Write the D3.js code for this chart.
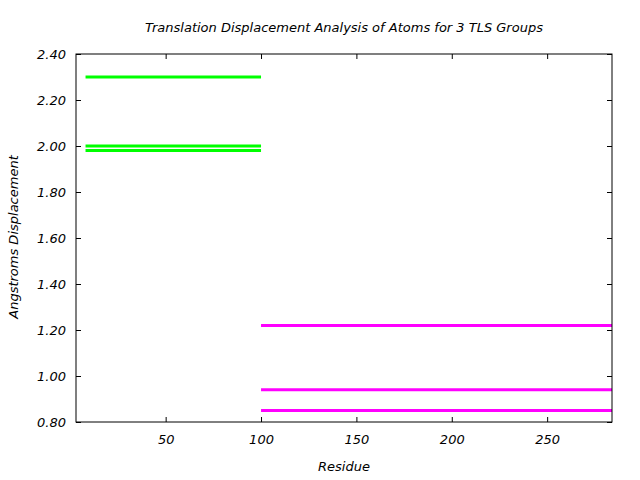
<!DOCTYPE html>
<html><head><meta charset="utf-8">
<script src="https://cdn.jsdelivr.net/npm/d3@7"></script>
<style>body{margin:0;background:#fff}svg{display:block}text{font-family:"DejaVu Sans",sans-serif;font-style:italic;font-size:13px;fill:#000}</style>
</head><body><svg id="c" width="640" height="480"></svg>
<script>
const title = "Translation Displacement Analysis of Atoms for 3 TLS Groups";
const xLabel = "Residue";
const yLabel = "Angstroms Displacement";
const xTicks = [50, 100, 150, 200, 250];
const yTicks = [0.8, 1.0, 1.2, 1.4, 1.6, 1.8, 2.0, 2.2, 2.4];
const groupNames = ["TLS group 1", "TLS group 2"];
const groupColors = ["#00ff00", "#ff00ff"];
const groupStart = [8, 100];
const groupEnd = [100, 284];
const group1Values = [2.30, 2.00, 1.98];
const group2Values = [1.22, 0.94, 0.85];

const svg = d3.select("#c");
const L = 76, R = 612, T = 54, B = 422;
const x = d3.scaleLinear().domain([3, 284]).range([L, R]);
const y = d3.scaleLinear().domain([0.8, 2.4]).range([B, T]);

const segs = [];
[group1Values, group2Values].forEach((vals, g) => vals.forEach(v => segs.push({g, v})));
svg.append("g").selectAll("line").data(segs).join("line")
  .attr("x1", d => x(groupStart[d.g])).attr("x2", d => x(groupEnd[d.g]))
  .attr("y1", d => y(d.v)).attr("y2", d => y(d.v))
  .attr("stroke", d => groupColors[d.g]).attr("stroke-width", 3);

const fmt = d3.format(".2f");
const ax = (a, tr) => { const g = svg.append("g").attr("transform", tr).call(a); g.select(".domain").remove(); g.selectAll("line").attr("stroke","#000"); g.selectAll("text").attr("font-size", null).attr("font-family", null); return g; };
ax(d3.axisBottom(x).tickValues(xTicks).tickSizeInner(-5).tickSizeOuter(0).tickPadding(13), `translate(0,${B})`);
ax(d3.axisTop(x).tickValues(xTicks).tickSizeInner(-5).tickSizeOuter(0).tickFormat(""), `translate(0,${T})`);
ax(d3.axisLeft(y).tickValues(yTicks).tickSizeInner(-5).tickSizeOuter(0).tickPadding(10).tickFormat(fmt), `translate(${L},0)`);
ax(d3.axisRight(y).tickValues(yTicks).tickSizeInner(-5).tickSizeOuter(0).tickFormat(""), `translate(${R},0)`);

svg.append("rect").attr("x", L).attr("y", T).attr("width", R - L).attr("height", B - T)
  .attr("fill", "none").attr("stroke", "#000").attr("stroke-width", 1);

svg.append("text").attr("x", 344).attr("y", 32).attr("text-anchor", "middle").text(title);
svg.append("text").attr("x", 344).attr("y", 471).attr("text-anchor", "middle").text(xLabel);
svg.append("text").attr("transform", "translate(18,237) rotate(-90)").attr("text-anchor", "middle").text(yLabel);
</script></body></html>
